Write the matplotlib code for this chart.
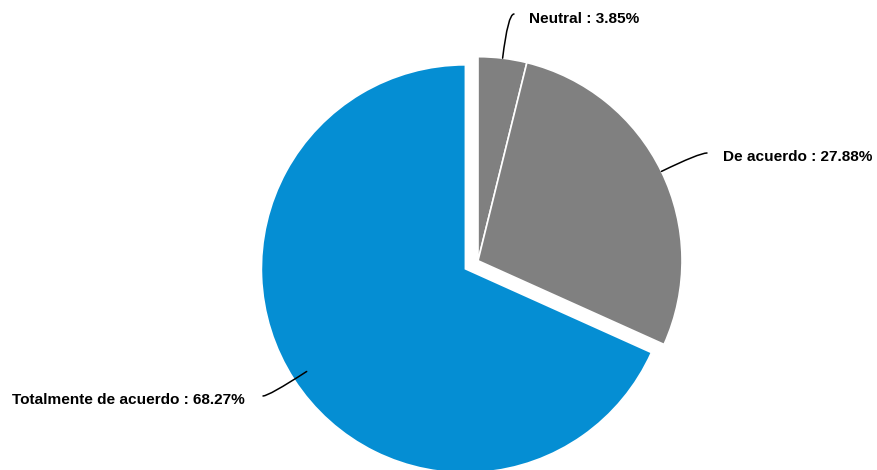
import numpy as np
import matplotlib
matplotlib.use("Agg")
from matplotlib import pyplot as plt

labels = ["Neutral", "De acuerdo", "Totalmente de acuerdo"]
shares = [3.85, 27.88, 68.27]
colors = ["#808080", "#808080", "#058ed3"]
sliced = [False, False, True]

W, H = 877, 470
cx, cy = 478, H - 260.7   # pie centre in pixel units (y up)
radius = 204
offset = 15               # how far the sliced wedge is pulled out (data units)

plt.rcParams["font.family"] = ["Liberation Sans", "DejaVu Sans"]

fig = plt.figure(figsize=(W / 100, H / 100), dpi=100)
ax = fig.add_axes([0, 0, 1, 1])

wedges, _ = ax.pie(shares, colors=colors, startangle=90, counterclock=False,
                   center=(cx, cy), radius=radius,
                   explode=[offset if s else 0 for s in sliced],
                   wedgeprops=dict(edgecolor="white", linewidth=1.2))

ax.set_xlim(0, W)
ax.set_ylim(0, H)
ax.set_aspect("equal")
ax.axis("off")

# label text anchor (pixels, y down), connector end beside the text, alignment
label_pos = [(529, 19, "left"), (723, 157, "left"), (245, 400, "right")]
conn_end = [(514, 14), (707, 153), (263, 396)]

for w, name, val, (tx, ty, ha), (ex, ey) in zip(wedges, labels, shares,
                                                label_pos, conn_end):
    mid = np.deg2rad((w.theta1 + w.theta2) / 2)
    # connectors point at the unsliced rim
    px = cx + radius * np.cos(mid)
    py = cy + radius * np.sin(mid)
    ang = np.rad2deg(mid) % 180
    ax.annotate("", xy=(px, py), xytext=(ex, H - ey),
                arrowprops=dict(arrowstyle="-", color="black", lw=1.1,
                                shrinkA=0, shrinkB=0,
                                connectionstyle=f"angle3,angleA=0,angleB={ang:.2f}"))
    ax.text(tx, H - ty, f"{name} : {val:.2f}%", ha=ha, va="center",
            fontsize=11.1, fontweight="bold", color="black")

fig.savefig("out.png", dpi=100, facecolor="white")
